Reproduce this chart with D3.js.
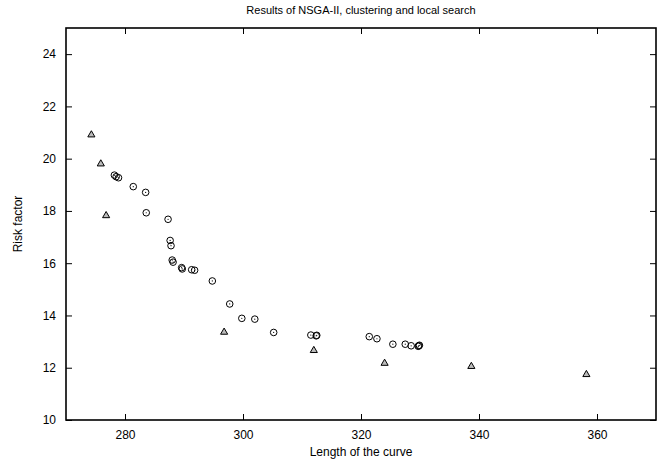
<!DOCTYPE html>
<html><head><meta charset="utf-8">
<script src="https://cdn.jsdelivr.net/npm/d3@7"></script>
<style>body{margin:0;background:#fff}svg{display:block}text{font-family:"Liberation Sans",Arial,sans-serif;fill:#000}</style>
</head><body>
<svg id="c" width="670" height="466"></svg>
<script>
const title = "Results of NSGA-II, clustering and local search";
const xLabel = "Length of the curve";
const yLabel = "Risk factor";
const xTicks = [280, 300, 320, 340, 360];
const yTicks = [10, 12, 14, 16, 18, 20, 22, 24];

// circles: clustering and local search results
const circleX = [278.2, 278.5, 278.9, 281.4, 283.5, 283.6, 287.3, 287.65, 287.8, 288.0, 288.15, 289.6, 289.7, 291.3, 291.8, 294.8, 297.75, 299.8, 302.0, 305.2, 311.5, 312.4, 312.5, 321.4, 322.7, 325.4, 327.5, 328.5, 329.8, 329.9, 329.7];
const circleY = [19.37, 19.31, 19.27, 18.93, 18.71, 17.93, 17.68, 16.87, 16.67, 16.12, 16.04, 15.83, 15.78, 15.75, 15.73, 15.32, 14.44, 13.89, 13.86, 13.35, 13.25, 13.22, 13.24, 13.19, 13.11, 12.9, 12.9, 12.84, 12.84, 12.86, 12.82];
// triangles: NSGA-II results
const triX = [274.3, 275.9, 276.8, 296.8, 312.0, 324.0, 338.7, 358.2];
const triY = [20.93, 19.82, 17.84, 13.38, 12.68, 12.19, 12.07, 11.76];

const svg = d3.select("#c");
const m = {l: 66, r: 656, t: 28, b: 420};
const x = d3.scaleLinear().domain([270, 370]).range([m.l, m.r]);
const y = d3.scaleLinear().domain([10, 25]).range([m.b, m.t]);

const ax = svg.append("g");
ax.append("g").attr("transform", `translate(0,${m.b})`)
  .call(d3.axisBottom(x).tickValues(xTicks).tickSizeInner(-6).tickSizeOuter(0).tickPadding(10))
  .call(g => g.select(".domain").remove());
ax.append("g").attr("transform", `translate(0,${m.t})`)
  .call(d3.axisTop(x).tickValues(xTicks).tickSizeInner(-6).tickSizeOuter(0).tickFormat(""))
  .call(g => g.select(".domain").remove());
ax.append("g").attr("transform", `translate(${m.l},0)`)
  .call(d3.axisLeft(y).tickValues(yTicks).tickSizeInner(-6).tickSizeOuter(0).tickPadding(10))
  .call(g => g.select(".domain").remove());
ax.append("g").attr("transform", `translate(${m.r},0)`)
  .call(d3.axisRight(y).tickValues(yTicks).tickSizeInner(-6).tickSizeOuter(0).tickFormat(""))
  .call(g => g.select(".domain").remove());
ax.selectAll(".tick line").attr("stroke", "#000").attr("stroke-width", 1);
ax.selectAll(".tick text").style("font-size", "12px").style("font-family", "Liberation Sans, Arial, sans-serif");

svg.append("rect").attr("x", m.l).attr("y", m.t).attr("width", m.r - m.l).attr("height", m.b - m.t)
  .attr("fill", "none").attr("stroke", "#000").attr("stroke-width", 1.6);

const circ = circleX.map((v, i) => [v, circleY[i]]);
const tri = triX.map((v, i) => [v, triY[i]]);

const pts = svg.append("g");
pts.selectAll("circle.o").data(circ).join("circle").attr("class", "o")
  .attr("cx", d => x(d[0])).attr("cy", d => y(d[1])).attr("r", 3.3)
  .attr("fill", "none").attr("stroke", "#000").attr("stroke-width", 1);
pts.selectAll("circle.d").data(circ).join("circle").attr("class", "d")
  .attr("cx", d => x(d[0])).attr("cy", d => y(d[1])).attr("r", 0.6).attr("fill", "#000");
const triPath = d3.symbol().type(d3.symbolTriangle).size(22);
pts.selectAll("path.t").data(tri).join("path").attr("class", "t")
  .attr("transform", d => `translate(${x(d[0])},${y(d[1]) + 0.5})`)
  .attr("d", triPath).attr("fill", "#bbb").attr("stroke", "#000").attr("stroke-width", 1);

svg.append("text").attr("x", (m.l + m.r) / 2).attr("y", 14).attr("text-anchor", "middle")
  .style("font-size", "11px").text(title);
svg.append("text").attr("x", (m.l + m.r) / 2).attr("y", 456).attr("text-anchor", "middle")
  .style("font-size", "12px").text(xLabel);
svg.append("text").attr("transform", `translate(22,${(m.t + m.b) / 2}) rotate(-90)`).attr("text-anchor", "middle")
  .style("font-size", "12px").text(yLabel);
</script>
</body></html>
